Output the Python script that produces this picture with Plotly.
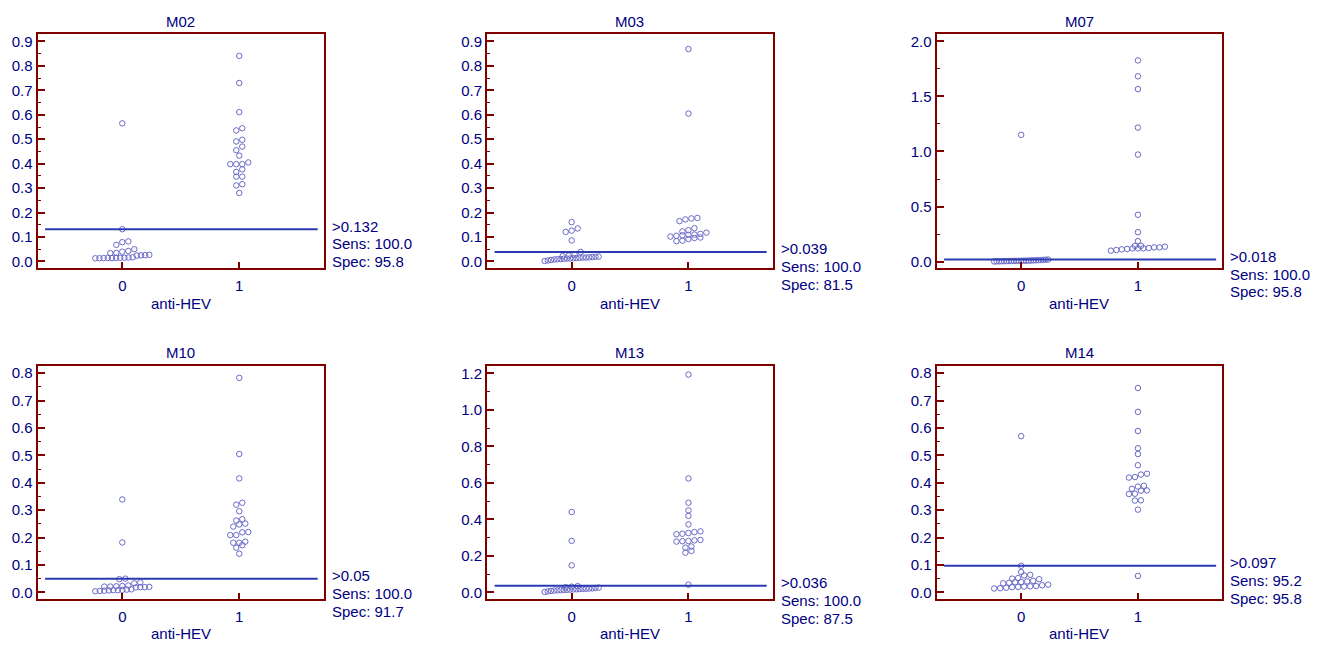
import plotly.graph_objects as go

# ---------------- data ----------------
panel_names = ["M02", "M03", "M07", "M10", "M13", "M14"]

M02_neg = [0.013, 0.013, 0.014, 0.014, 0.014, 0.015, 0.015, 0.015, 0.016, 0.017, 0.024, 0.025,
           0.026, 0.027, 0.034, 0.035, 0.040, 0.043, 0.050, 0.068, 0.079, 0.082, 0.132, 0.565]
M02_pos = [0.280, 0.311, 0.316, 0.347, 0.347, 0.366, 0.377, 0.398, 0.398, 0.398, 0.405, 0.433,
           0.455, 0.470, 0.491, 0.498, 0.536, 0.545, 0.611, 0.730, 0.841]

M03_neg = [0.002, 0.004, 0.006, 0.008, 0.009, 0.010, 0.011, 0.012, 0.012, 0.013, 0.014, 0.015,
           0.016, 0.016, 0.017, 0.018, 0.019, 0.020, 0.022, 0.024, 0.027, 0.039, 0.086, 0.121,
           0.126, 0.135, 0.161]
M03_pos = [0.083, 0.085, 0.092, 0.096, 0.098, 0.102, 0.105, 0.107, 0.109, 0.110, 0.113, 0.118,
           0.123, 0.128, 0.136, 0.165, 0.172, 0.176, 0.178, 0.605, 0.869]

M07_neg = [0.001, 0.002, 0.002, 0.003, 0.004, 0.004, 0.005, 0.005, 0.006, 0.006, 0.007, 0.007,
           0.008, 0.008, 0.009, 0.010, 0.011, 0.012, 0.013, 0.014, 0.015, 0.017, 0.018, 1.151]
M07_pos = [0.099, 0.105, 0.111, 0.114, 0.120, 0.120, 0.120, 0.123, 0.129, 0.129, 0.135, 0.142,
           0.143, 0.186, 0.267, 0.425, 0.972, 1.217, 1.567, 1.683, 1.827]

M10_neg = [0.004, 0.005, 0.006, 0.007, 0.008, 0.008, 0.009, 0.010, 0.011, 0.018, 0.019, 0.019,
           0.020, 0.021, 0.021, 0.022, 0.023, 0.025, 0.033, 0.036, 0.048, 0.050, 0.182, 0.339]
M10_pos = [0.141, 0.163, 0.172, 0.181, 0.181, 0.185, 0.209, 0.209, 0.219, 0.220, 0.240, 0.248,
           0.251, 0.262, 0.267, 0.296, 0.320, 0.327, 0.416, 0.505, 0.783]

M13_neg = [0.002, 0.005, 0.008, 0.010, 0.011, 0.012, 0.013, 0.014, 0.015, 0.016, 0.017, 0.018,
           0.019, 0.020, 0.021, 0.022, 0.024, 0.026, 0.028, 0.031, 0.034, 0.148, 0.282, 0.440]
M13_pos = [0.042, 0.217, 0.227, 0.245, 0.251, 0.278, 0.280, 0.281, 0.285, 0.287, 0.318, 0.321,
           0.325, 0.330, 0.334, 0.372, 0.419, 0.449, 0.491, 0.624, 1.193]

M14_neg = [0.014, 0.015, 0.017, 0.019, 0.020, 0.021, 0.022, 0.023, 0.026, 0.028, 0.033, 0.035,
           0.037, 0.038, 0.040, 0.042, 0.048, 0.050, 0.052, 0.062, 0.064, 0.074, 0.097, 0.570]
M14_pos = [0.060, 0.302, 0.335, 0.336, 0.359, 0.360, 0.371, 0.372, 0.378, 0.386, 0.389, 0.419,
           0.421, 0.430, 0.433, 0.464, 0.505, 0.526, 0.589, 0.659, 0.746]

negatives = [M02_neg, M03_neg, M07_neg, M10_neg, M13_neg, M14_neg]
positives = [M02_pos, M03_pos, M07_pos, M10_pos, M13_pos, M14_pos]

cutoffs = [0.132, 0.039, 0.018, 0.05, 0.036, 0.097]
sens = ["100.0", "100.0", "100.0", "100.0", "100.0", "95.2"]
spec = ["95.8", "81.5", "95.8", "91.7", "87.5", "95.8"]

category_labels = ["0", "1"]
x_title = "anti-HEV"

# axis settings (y range, major step, minor step)
y_ranges = [(-0.027, 0.93), (-0.027, 0.93), (-0.059, 2.066),
            (-0.024, 0.827), (-0.036, 1.241), (-0.024, 0.827)]
y_dticks = [0.1, 0.1, 0.5, 0.1, 0.2, 0.1]
y_minor = [0.05, 0.05, 0.25, 0.05, 0.1, 0.05]

# ---------------- style / layout ----------------
W, H = 1321, 647
FONT = "Arial, 'Liberation Sans', sans-serif"
NAVY = "#000080"
FRAME = "#800000"
MARK = "#6a6ac8"
CUT = "#2a3ab0"
X_RANGE = (-0.725, 1.72)
col_px = [(37.5, 323.5), (487.0, 772.5), (936.5, 1222.0)]
row_px = [(33.3, 268.3), (366.5, 600.7)]


def dot_offsets(values, h, smax, wmax):
    """MedCalc-like dot plot: group values whose y lie within h into a row,
    then spread each row symmetrically, sorted ascending left to right."""
    order = sorted(range(len(values)), key=lambda i: values[i])
    bins, cur, start = [], [], None
    for i in order:
        v = values[i]
        if start is None or v >= start + h:
            if cur:
                bins.append(cur)
            cur, start = [i], v
        else:
            cur.append(i)
    if cur:
        bins.append(cur)
    off = [0.0] * len(values)
    for b in bins:
        n = len(b)
        s = smax if n <= 1 else min(smax, wmax / (n - 1))
        for k, i in enumerate(b):
            off[i] = (k - (n - 1) / 2) * s
    return off


fig = go.Figure()
layout = dict(width=W, height=H, margin=dict(l=0, r=0, t=0, b=0),
              paper_bgcolor="white", plot_bgcolor="white", showlegend=False,
              font=dict(family=FONT, size=15, color=NAVY))
annotations, shapes = [], []

for i, name in enumerate(panel_names):
    r, c = divmod(i, 3)
    k = i + 1
    xa = "x" if k == 1 else f"x{k}"
    ya = "y" if k == 1 else f"y{k}"
    x0p, x1p = col_px[c]
    y0p, y1p = row_px[r]
    yr = y_ranges[i]
    px_per_y = (y1p - y0p) / (yr[1] - yr[0])
    px_per_x = (x1p - x0p) / (X_RANGE[1] - X_RANGE[0])
    h = 4.5 / px_per_y
    smax = 6.0 / px_per_x
    wmax = 54.0 / px_per_x

    xs, ys = [], []
    for g, vals in enumerate([negatives[i], positives[i]]):
        offs = dot_offsets(vals, h, smax, wmax)
        xs += [g + o for o in offs]
        ys += list(vals)
    fig.add_trace(go.Scatter(
        x=xs, y=ys, mode="markers", xaxis=xa, yaxis=ya, hoverinfo="skip",
        marker=dict(symbol="circle-open", size=5.5, color=MARK, line=dict(width=1, color=MARK))))

    axis_common = dict(showline=True, linecolor=FRAME, linewidth=2, mirror=True,
                       showgrid=False, zeroline=False, ticks="inside", tickcolor=FRAME,
                       tickwidth=2, tickfont=dict(family=FONT, size=15, color=NAVY))
    layout["xaxis" if k == 1 else f"xaxis{k}"] = dict(
        axis_common, domain=[x0p / W, x1p / W], range=list(X_RANGE),
        tickmode="array", tickvals=[0, 1], ticktext=category_labels, ticklen=6,
        ticklabelstandoff=3, anchor=ya, fixedrange=True)
    layout["yaxis" if k == 1 else f"yaxis{k}"] = dict(
        axis_common, domain=[1 - y1p / H, 1 - y0p / H], range=list(yr),
        tick0=0, dtick=y_dticks[i], tickformat=".1f", ticklen=7,
        minor=dict(dtick=y_minor[i], tick0=0, ticks="inside", ticklen=3,
                   tickcolor=FRAME, tickwidth=1),
        anchor=xa, fixedrange=True)

    xdom = "x domain" if k == 1 else f"x{k} domain"
    ydom = "y domain" if k == 1 else f"y{k} domain"
    # cut-off line
    shapes.append(dict(type="line", xref=xa, yref=ya, x0=-0.66, x1=1.67,
                       y0=cutoffs[i], y1=cutoffs[i], line=dict(color=CUT, width=2)))
    # panel title
    annotations.append(dict(text=name, xref=xdom, yref=ydom, x=0.5, y=1,
                            yanchor="middle", yshift=13, showarrow=False,
                            font=dict(family=FONT, size=15, color=NAVY)))
    # x axis title
    annotations.append(dict(text=x_title, xref=xdom, yref=ydom, x=0.5, y=0,
                            yanchor="middle", yshift=-35, showarrow=False,
                            font=dict(family=FONT, size=15, color=NAVY)))
    # criterion labels
    lines = [">" + f"{cutoffs[i]:g}", "Sens: " + sens[i], "Spec: " + spec[i]]
    for j, t in enumerate(lines):
        annotations.append(dict(text=t, xref=xdom, yref=ya, x=1, y=cutoffs[i],
                                xanchor="left", yanchor="middle", xshift=6,
                                yshift=3 - 17.7 * j, showarrow=False,
                                font=dict(family=FONT, size=15, color=NAVY)))

layout["annotations"] = annotations
layout["shapes"] = shapes
fig.update_layout(**layout)
fig.write_html("out.html",
               config={"displayModeBar": False, "staticPlot": True},
               post_script="document.body.style.margin='0px';"
                           "document.body.style.overflow='hidden';")
